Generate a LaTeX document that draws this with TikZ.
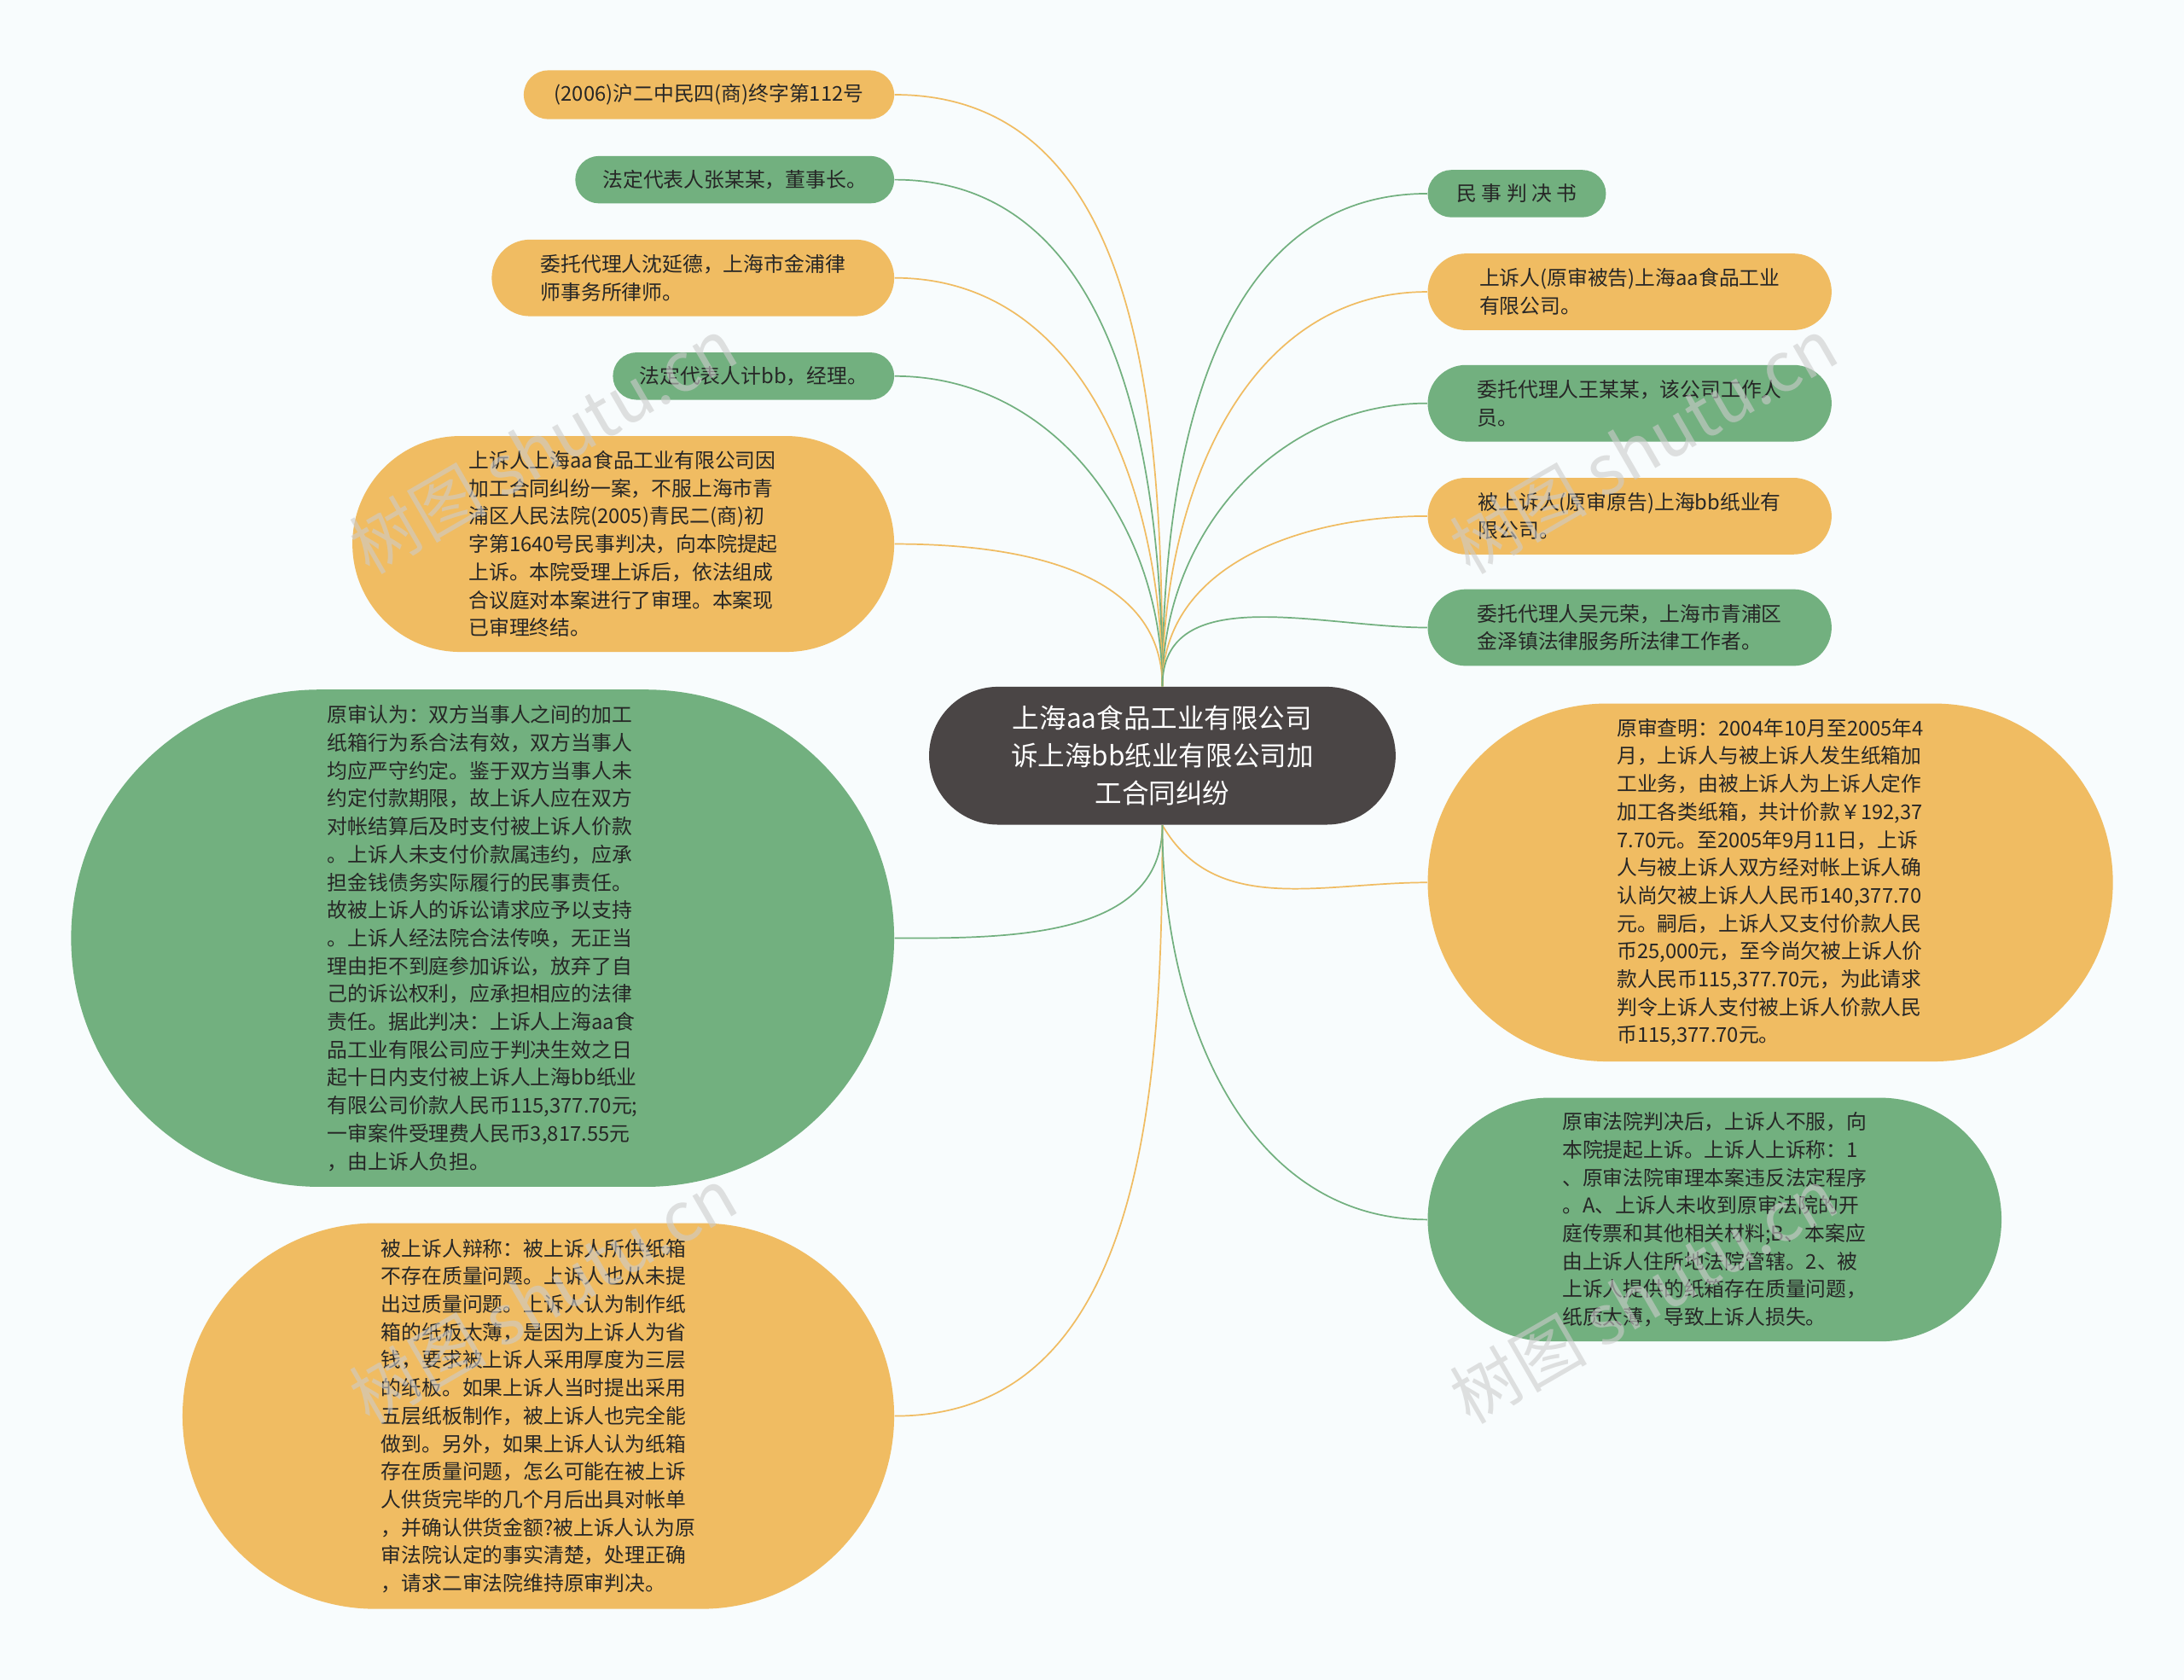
\documentclass[tikz,border=0pt]{standalone}
\usepackage{fontspec}
\setmainfont{Noto Sans CJK SC}
\usetikzlibrary{shapes.misc}
\definecolor{orng}{HTML}{F0BC62}
\definecolor{grn}{HTML}{72B07F}
\definecolor{dark}{HTML}{4A4545}
\definecolor{bg}{HTML}{F8FCFD}
\tikzset{
  leaf/.style={rounded rectangle,inner sep=0pt,align=left,text=black!85,
    font=\fontsize{8.3}{11.4}\selectfont},
  obox/.style={leaf,fill=orng},
  gbox/.style={leaf,fill=grn},
  oline/.style={draw=orng,line width=0.6pt},
  gline/.style={draw=grn,line width=0.6pt},
  wm/.style={text=gray!40,opacity=0.6,rotate=30,font=\fontsize{28}{30}\selectfont}
}
\begin{document}
\begin{tikzpicture}[x=0.02cm,y=-0.02cm]
\fill[bg](0,0)rectangle(1568,1206);
\useasboundingbox(0,0)rectangle(1568,1206);
% centre
\node[rounded rectangle,fill=dark,text=white,align=center,inner sep=0pt,
  minimum width=6.7cm,minimum height=1.98cm,font=\fontsize{11}{15.4}\selectfont]
  (C) at (834.5,542.5) {上海aa食品工业有限公司\\诉上海bb纸业有限公司加\\工合同纠纷};
% left side
\node[obox,minimum width=5.32cm,minimum height=0.7cm] (L1) at (509,68) {(2006)沪二中民四(商)终字第112号};
\node[gbox,minimum width=4.58cm,minimum height=0.68cm] (L2) at (527.5,129) {法定代表人张某某，董事长。};
\node[obox,minimum width=5.78cm,minimum height=1.1cm] (L3) at (497.5,199.5) {委托代理人沈延德，上海市金浦律\\师事务所律师。};
\node[gbox,minimum width=4.04cm,minimum height=0.68cm] (L4) at (541,270) {法定代表人计bb，经理。};
\node[obox,minimum width=7.78cm,minimum height=3.1cm] (L5) at (447.5,390.5) {上诉人上海aa食品工业有限公司因\\加工合同纠纷一案，不服上海市青\\浦区人民法院(2005)青民二(商)初\\字第1640号民事判决，向本院提起\\上诉。本院受理上诉后，依法组成\\合议庭对本案进行了审理。本案现\\已审理终结。};
\node[gbox,minimum width=11.82cm,minimum height=7.14cm] (L6) at (346.5,673.5) {原审认为：双方当事人之间的加工\\纸箱行为系合法有效，双方当事人\\均应严守约定。鉴于双方当事人未\\约定付款期限，故上诉人应在双方\\对帐结算后及时支付被上诉人价款\\。上诉人未支付价款属违约，应承\\担金钱债务实际履行的民事责任。\\故被上诉人的诉讼请求应予以支持\\。上诉人经法院合法传唤，无正当\\理由拒不到庭参加诉讼，放弃了自\\己的诉讼权利，应承担相应的法律\\责任。据此判决：上诉人上海aa食\\品工业有限公司应于判决生效之日\\起十日内支付被上诉人上海bb纸业\\有限公司价款人民币115,377.70元;\\一审案件受理费人民币3,817.55元\\，由上诉人负担。};
\node[obox,minimum width=10.22cm,minimum height=5.54cm] (L7) at (386.5,1016.5) {被上诉人辩称：被上诉人所供纸箱\\不存在质量问题。上诉人也从未提\\出过质量问题。上诉人认为制作纸\\箱的纸板太薄，是因为上诉人为省\\钱，要求被上诉人采用厚度为三层\\的纸板。如果上诉人当时提出采用\\五层纸板制作，被上诉人也完全能\\做到。另外，如果上诉人认为纸箱\\存在质量问题，怎么可能在被上诉\\人供货完毕的几个月后出具对帐单\\，并确认供货金额?被上诉人认为原\\审法院认定的事实清楚，处理正确\\，请求二审法院维持原审判决。};
% right side
\node[gbox,minimum width=2.56cm,minimum height=0.68cm] (R1) at (1089,139) {民 事 判 决 书};
\node[obox,minimum width=5.8cm,minimum height=1.1cm] (R2) at (1170,209.5) {上诉人(原审被告)上海aa食品工业\\有限公司。};
\node[gbox,minimum width=5.8cm,minimum height=1.1cm] (R3) at (1170,289.5) {委托代理人王某某，该公司工作人\\员。};
\node[obox,minimum width=5.8cm,minimum height=1.1cm] (R4) at (1170,370.5) {被上诉人(原审原告)上海bb纸业有\\限公司。};
\node[gbox,minimum width=5.8cm,minimum height=1.1cm] (R5) at (1170,450.5) {委托代理人吴元荣，上海市青浦区\\金泽镇法律服务所法律工作者。};
\node[obox,minimum width=9.84cm,minimum height=5.14cm] (R6) at (1271,633.5) {原审查明：2004年10月至2005年4\\月，上诉人与被上诉人发生纸箱加\\工业务，由被上诉人为上诉人定作\\加工各类纸箱，共计价款￥192,37\\7.70元。至2005年9月11日，上诉\\人与被上诉人双方经对帐上诉人确\\认尚欠被上诉人人民币140,377.70\\元。嗣后，上诉人又支付价款人民\\币25,000元，至今尚欠被上诉人价\\款人民币115,377.70元，为此请求\\判令上诉人支付被上诉人价款人民\\币115,377.70元。};
\node[gbox,minimum width=8.24cm,minimum height=3.5cm] (R7) at (1231,875.5) {原审法院判决后，上诉人不服，向\\本院提起上诉。上诉人上诉称：1\\、原审法院审理本案违反法定程序\\。A、上诉人未收到原审法院的开\\庭传票和其他相关材料;B、本案应\\由上诉人住所地法院管辖。2、被\\上诉人提供的纸箱存在质量问题，\\纸质太薄，导致上诉人损失。};
% connectors
\begin{scope}[on background layer/.style={}]
\draw[oline](C.north)to[out=90,in=0](L1.east);
\draw[gline](C.north)to[out=90,in=0](L2.east);
\draw[oline](C.north)to[out=90,in=0](L3.east);
\draw[gline](C.north)to[out=90,in=0](L4.east);
\draw[oline](C.north)to[out=90,in=0](L5.east);
\draw[gline](C.south)to[out=-90,in=0](L6.east);
\draw[oline](C.south)to[out=-90,in=0](L7.east);
\draw[gline](C.north)to[out=90,in=180](R1.west);
\draw[oline](C.north)to[out=90,in=180](R2.west);
\draw[gline](C.north)to[out=90,in=180](R3.west);
\draw[oline](C.north)to[out=90,in=180](R4.west);
\draw[gline](C.north)to[out=90,in=180](R5.west);
\draw[oline](C.south)to[out=-60,in=180](R6.west);
\draw[gline](C.south)to[out=-90,in=180](R7.west);
\end{scope}
% watermarks
\node[wm] (W1) at (390,320) {树图 shutu.cn};
\node[wm] (W2) at (1180,320) {树图 shutu.cn};
\node[wm] (W3) at (390,930) {树图 shutu.cn};
\node[wm] (W4) at (1180,930) {树图 shutu.cn};
\end{tikzpicture}
\end{document}
